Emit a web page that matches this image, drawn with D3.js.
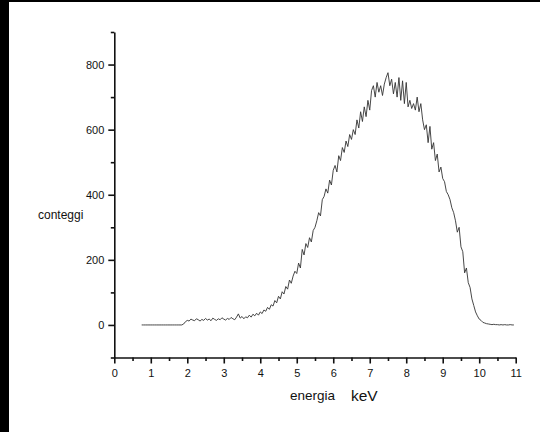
<!DOCTYPE html>
<html lang="it">
<head>
<meta charset="utf-8">
<title>Spettro</title>
<script src="https://cdn.jsdelivr.net/npm/d3@7"></script>
<style>
  body { margin: 0; background: #fff; }
  text { font-family: "Liberation Sans", Arial, sans-serif; fill: #111; }
  .axis path, .axis line { stroke: #111; stroke-width: 1.6; }
  .axis text { font-size: 11px; }
</style>
</head>
<body>
<script>
// energy channels (keV), step 0.05 from 0.75 to 11.00
const energia = d3.range(0, 206).map(i => +(0.75 + i * 0.05).toFixed(2));

// counts, one per channel
const conteggi = [
  0, 0, 0, 0, 0, 0, 0, 0, 0, 0, 0, 0, 0, 0, 0, 0, 0, 0, 0, 0, 0, 0, 0,
  3, 10, 14, 12, 18, 15, 13, 19, 16, 12, 17, 14, 20, 15, 18, 13, 21, 17, 14, 19, 16, 22,
  18, 15, 20, 17, 23, 19, 16, 24, 34, 21, 26, 19, 25, 22, 30, 24, 33, 28, 36, 30,
  40, 35, 46, 42, 54, 48, 62, 58, 75, 68, 88, 80, 102, 95, 118, 110, 138, 128, 150, 165,
  158, 190, 175, 232, 215, 250, 238, 268, 255, 290, 300, 320, 345, 335, 385, 395, 418, 405, 445, 430,
  475, 490, 470, 520, 505, 545, 530, 565, 548, 585, 570, 600, 585, 630, 605, 655, 625, 670, 640, 690,
  660, 720, 735, 700, 745, 715, 735, 705, 740, 760, 775, 735, 755, 710, 745, 700, 760, 690, 750, 680,
  745, 670, 690, 665, 680, 660, 700, 655, 680, 630, 600, 615, 560, 610, 540, 560, 505, 525, 470, 485,
  450, 440, 410, 400, 385, 360, 345, 320, 285, 300, 240, 225, 160, 175, 130, 115, 80, 60, 40, 28,
  18, 14, 8, 6, 4, 3, 2, 1, 2, 1, 1, 0, 1, 0, 1, 0, 0, 1, 0, 0
];

const xTicks = d3.range(0, 12);
const yTicks = [0, 200, 400, 600, 800];

const width = 540, height = 432;
const svg = d3.select("body").append("svg")
  .attr("width", width)
  .attr("height", height);

// black frame strips of the screenshot
svg.append("rect").attr("x", 0).attr("y", 0).attr("width", 9).attr("height", height).attr("fill", "#000");
svg.append("rect").attr("x", 0).attr("y", 0).attr("width", width).attr("height", 2).attr("fill", "#000");

const x = d3.scaleLinear().domain([0, 11]).range([114.3, 515.7]);
const y = d3.scaleLinear().domain([-100, 900]).range([357.5, 32]);

// minor ticks first
svg.append("g")
  .attr("class", "axis")
  .attr("transform", "translate(0,357.5)")
  .call(d3.axisBottom(x).tickValues(d3.range(0.5, 11, 1)).tickSize(3.5).tickFormat(""))
  .select(".domain").remove();
svg.append("g")
  .attr("class", "axis")
  .attr("transform", "translate(114.3,0)")
  .call(d3.axisLeft(y).tickValues([-100, 100, 300, 500, 700, 900]).tickSize(3.5).tickFormat(""))
  .select(".domain").remove();

// major ticks + axis lines
svg.append("g")
  .attr("class", "axis")
  .attr("transform", "translate(0,357.5)")
  .call(d3.axisBottom(x).tickValues(xTicks).tickSizeInner(6).tickSizeOuter(0).tickPadding(6));
svg.append("g")
  .attr("class", "axis")
  .attr("transform", "translate(114.3,0)")
  .call(d3.axisLeft(y).tickValues(yTicks).tickSizeInner(6).tickSizeOuter(0).tickPadding(4));

// spectrum
const line = d3.line()
  .x((d, i) => x(energia[i]))
  .y(d => y(d));

svg.append("path")
  .datum(conteggi)
  .attr("d", line)
  .attr("fill", "none")
  .attr("stroke", "#333")
  .attr("stroke-width", 0.9);

// axis titles
svg.append("text")
  .attr("x", 38).attr("y", 219)
  .style("font-size", "12px")
  .text("conteggi");

svg.append("text")
  .attr("x", 290).attr("y", 400)
  .style("font-size", "13.5px")
  .text("energia");

svg.append("text")
  .attr("x", 351).attr("y", 401)
  .style("font-size", "15.5px")
  .text("keV");
</script>
</body>
</html>
